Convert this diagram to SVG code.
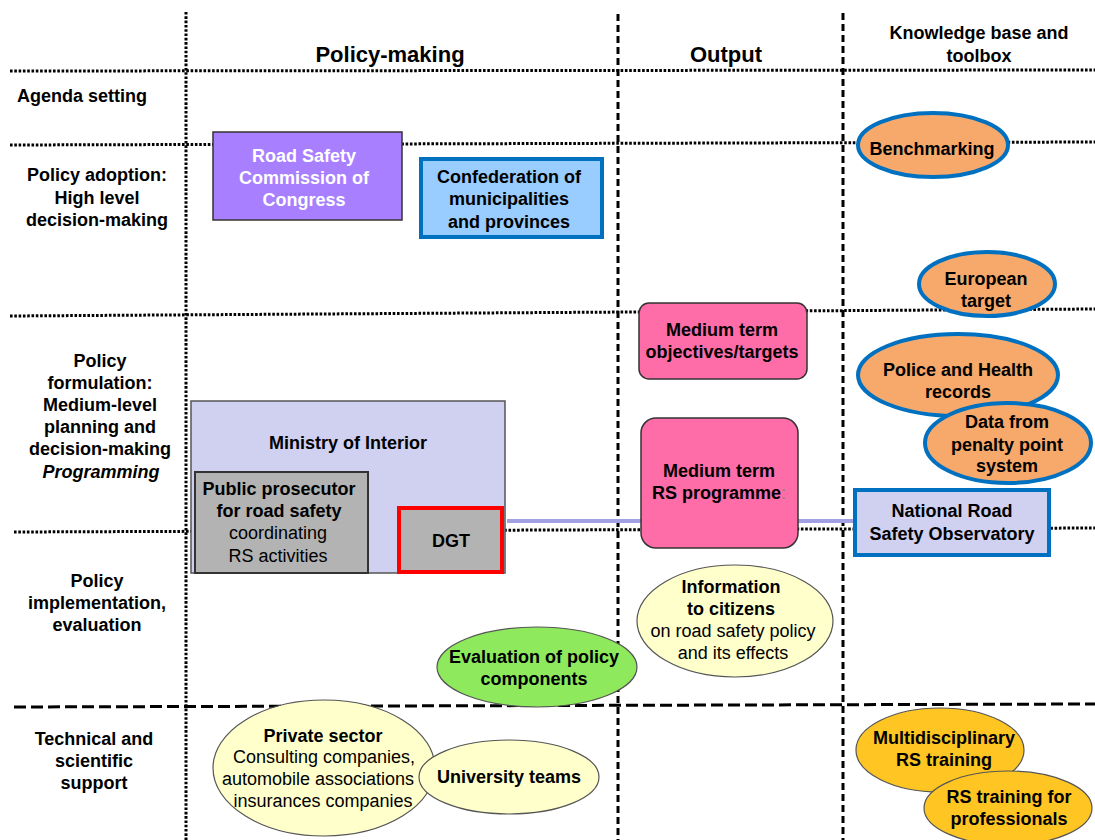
<svg xmlns="http://www.w3.org/2000/svg" width="1095" height="840" viewBox="0 0 1095 840">
<style>
.t{font-family:"Liberation Sans",Arial,sans-serif;font-size:18px;text-anchor:middle;fill:#000}
.b{font-weight:bold}
.h{font-size:22px;font-weight:bold}
.w{fill:#fff}
.dot{stroke:#000;stroke-width:3;stroke-dasharray:2.6 1.7;fill:none}
.dash{stroke:#000;stroke-width:3;stroke-dasharray:7 4;fill:none}
.dashl{stroke:#000;stroke-width:3;stroke-dasharray:12 5;fill:none}
.org{fill:#F6A96B;stroke:#0070C0;stroke-width:4}
.gold{fill:#FFC522;stroke:#555;stroke-width:1.2}
.cream{fill:#FFFFCC;stroke:#555;stroke-width:1.2}
.pink{fill:#FF6DA8;stroke:#333;stroke-width:1.5}
</style>
<rect width="1095" height="840" fill="#fff"/>
<g id="grid">
<line class="dot" x1="10" y1="71" x2="1095" y2="70"/>
<line class="dot" x1="10" y1="145" x2="1095" y2="142"/>
<line class="dot" x1="10" y1="316" x2="1095" y2="309"/>
<line class="dot" x1="14" y1="532" x2="1095" y2="528"/>
<line class="dashl" x1="14" y1="707" x2="1095" y2="704"/>
<line class="dot" x1="186" y1="12" x2="186" y2="840"/>
<line class="dash" x1="618" y1="14" x2="618" y2="840"/>
<line class="dash" x1="843" y1="13" x2="843" y2="840"/>
</g>
<g id="headers">
<text class="t h" x="390" y="62">Policy-making</text>
<text class="t h" x="726" y="62">Output</text>
<text class="t b" x="979" y="39" font-size="17.5">Knowledge base and</text>
<text class="t b" x="979" y="62" font-size="17.5">toolbox</text>
</g>
<g id="rows">
<text class="t b" x="82" y="102">Agenda setting</text>
<text class="t b" x="97" y="181">Policy adoption:</text>
<text class="t b" x="97" y="203.5">High level</text>
<text class="t b" x="97" y="226">decision-making</text>
<text class="t b" x="100" y="366.5">Policy</text>
<text class="t b" x="100" y="388.7">formulation:</text>
<text class="t b" x="100" y="411">Medium-level</text>
<text class="t b" x="100" y="433">planning and</text>
<text class="t b" x="100" y="455">decision-making</text>
<text class="t b" x="101" y="478" font-style="italic">Programming</text>
<text class="t b" x="97" y="586.5">Policy</text>
<text class="t b" x="97" y="608.5">implementation,</text>
<text class="t b" x="97" y="630.5">evaluation</text>
<text class="t b" x="94" y="745">Technical and</text>
<text class="t b" x="94" y="767">scientific</text>
<text class="t b" x="94" y="789">support</text>
</g>
<g id="connectors">
<line x1="507" y1="521" x2="855" y2="521" stroke="#A0A0E2" stroke-width="4"/>
</g>
<g id="node-rsc">
<rect x="213" y="132" width="189" height="88" fill="#A87FFF" stroke="#333" stroke-width="1.5"/>
<text class="t b w" x="304" y="161.5">Road Safety</text>
<text class="t b w" x="304" y="183.5">Commission of</text>
<text class="t b w" x="304" y="205.5">Congress</text>
</g>
<g id="node-confed">
<rect x="421" y="159" width="181" height="78" fill="#99CCFF" stroke="#0070C0" stroke-width="4"/>
<text class="t b" x="509" y="183">Confederation of</text>
<text class="t b" x="509" y="205">municipalities</text>
<text class="t b" x="509" y="227.5">and provinces</text>
</g>
<g id="node-ministry">
<rect x="191" y="401" width="314" height="172" fill="#D0D0F0" stroke="#555" stroke-width="1.5"/>
<text class="t b" x="348" y="449">Ministry of Interior</text>
</g>
<g id="node-prosecutor">
<rect x="195" y="472" width="173" height="101" fill="#B3B3B3" stroke="#333" stroke-width="2"/>
<text class="t b" x="279" y="495">Public prosecutor</text>
<text class="t b" x="279" y="517.3">for road safety</text>
<text class="t" x="278" y="539.3">coordinating</text>
<text class="t" x="278" y="561.7">RS activities</text>
</g>
<g id="node-dgt">
<rect x="399" y="508" width="103" height="64" fill="#B3B3B3" stroke="#FF0000" stroke-width="4"/>
<text class="t b" x="451" y="547">DGT</text>
</g>
<g id="node-objectives">
<rect x="639" y="303" width="168" height="76" rx="10" class="pink"/>
<text class="t b" x="722" y="336">Medium term</text>
<text class="t b" x="722" y="358">objectives/targets</text>
</g>
<g id="node-programme">
<rect x="641" y="418" width="157" height="130" rx="15" class="pink"/>
<text class="t b" x="719" y="477">Medium term</text>
<text class="t b" x="719" y="499">RS programme<tspan fill="#888" font-weight="normal">:</tspan></text>
</g>
<g id="node-information">
<ellipse cx="735" cy="621" rx="98" ry="56" class="cream"/>
<text class="t b" x="731" y="593.3">Information</text>
<text class="t b" x="731" y="615">to citizens</text>
<text class="t" x="733" y="637">on road safety policy</text>
<text class="t" x="733" y="659">and its effects</text>
</g>
<g id="node-evaluation">
<ellipse cx="537" cy="667" rx="100" ry="40" fill="#8EEA5C" stroke="#555" stroke-width="1.2"/>
<text class="t b" x="534" y="663.3">Evaluation of policy</text>
<text class="t b" x="534" y="685">components</text>
</g>
<g id="node-private">
<ellipse cx="324" cy="768" rx="111" ry="68" class="cream"/>
<text class="t b" x="323" y="741.7">Private sector</text>
<text class="t" x="324" y="763.3">Consulting companies,</text>
<text class="t" x="318" y="785">automobile associations</text>
<text class="t" x="323" y="806.7">insurances companies</text>
</g>
<g id="node-university">
<ellipse cx="509" cy="777" rx="90" ry="37" class="cream"/>
<text class="t b" x="509" y="783.3">University teams</text>
</g>
<g id="node-benchmarking">
<ellipse cx="933" cy="145" rx="75" ry="32" class="org"/>
<text class="t b" x="932" y="155">Benchmarking</text>
</g>
<g id="node-european">
<ellipse cx="987" cy="284" rx="68" ry="32" class="org"/>
<text class="t b" x="986" y="284.5">European</text>
<text class="t b" x="986" y="306.5">target</text>
</g>
<g id="node-police">
<ellipse cx="958" cy="375" rx="100" ry="41" class="org"/>
<text class="t b" x="958" y="376">Police and Health</text>
<text class="t b" x="958" y="398">records</text>
</g>
<g id="node-penalty">
<ellipse cx="1008" cy="443" rx="83" ry="40" class="org"/>
<text class="t b" x="1007" y="428.3">Data from</text>
<text class="t b" x="1007" y="450.7">penalty point</text>
<text class="t b" x="1007" y="472.3">system</text>
</g>
<g id="node-observatory">
<rect x="855" y="490" width="194" height="65" fill="#D0D0F0" stroke="#0070C0" stroke-width="4"/>
<text class="t b" x="952" y="517.3">National Road</text>
<text class="t b" x="952" y="540">Safety Observatory</text>
</g>
<g id="node-multidisciplinary">
<ellipse cx="940" cy="750" rx="84" ry="42" class="gold"/>
<text class="t b" x="944" y="744.3">Multidisciplinary</text>
<text class="t b" x="944" y="766">RS training</text>
</g>
<g id="node-professionals">
<ellipse cx="1008" cy="808" rx="84" ry="37" class="gold"/>
<text class="t b" x="1009" y="803.3">RS training for</text>
<text class="t b" x="1009" y="825">professionals</text>
</g>
</svg>
